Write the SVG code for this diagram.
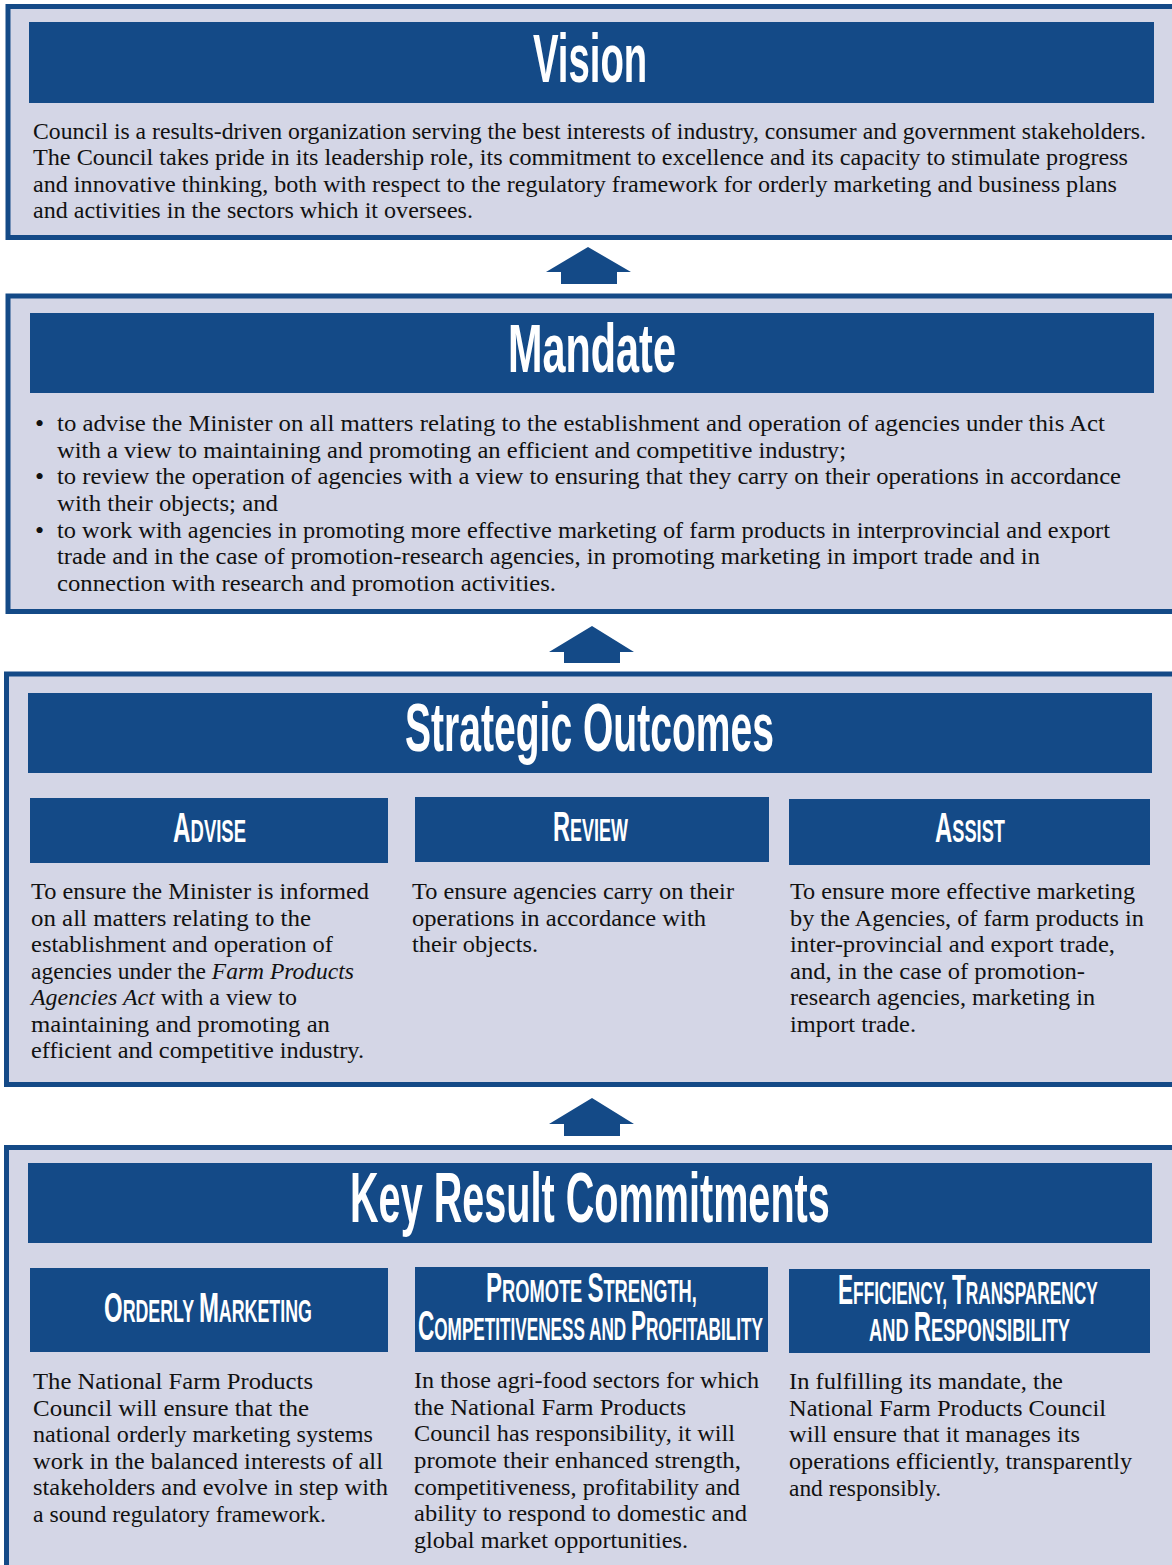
<svg xmlns="http://www.w3.org/2000/svg" width="1172" height="1565" viewBox="0 0 1172 1565">
<style>
.panel{fill:#d4d6e6;stroke:#144a87;stroke-width:5}
.bar{fill:#144a87}
.arrow{fill:#144a87}
.title{font-family:"Liberation Sans",Arial,sans-serif;font-weight:bold;font-size:68px;fill:#fff}
.hd{font-family:"Liberation Sans",Arial,sans-serif;font-weight:bold;fill:#fff}
.big{font-size:42px}
.sm{font-size:32px}
.body{font-family:"Liberation Serif","DejaVu Serif",serif;font-size:22.5px;fill:#111}
.bul{font-family:"Liberation Serif","DejaVu Serif",serif;font-size:26px;fill:#111}
.it{font-style:italic}
</style>
<rect width="1172" height="1565" fill="#fff"/>

<g id="connectors">
<polygon class="arrow" points="588,247 631,272 617,272 617,284 561,284 561,272 546,272"/>
<polygon class="arrow" points="592,626 634,652 620,652 620,663 564,663 564,652 549,652"/>
<polygon class="arrow" points="592,1098 634,1124 620,1124 620,1136 564,1136 564,1124 549,1124"/>
</g>

<g id="vision">
<rect class="panel" x="8" y="6.5" width="1175" height="231"/>
<rect class="bar" x="29" y="22" width="1125" height="81"/>
<text class="title" transform="translate(533,82) scale(0.5635,1)">Vision</text>
<text class="body" x="33" y="138.5" textLength="1113" lengthAdjust="spacingAndGlyphs">Council is a results-driven organization serving the best interests of industry, consumer and government stakeholders.</text>
<text class="body" x="33" y="165" textLength="1095" lengthAdjust="spacingAndGlyphs">The Council takes pride in its leadership role, its commitment to excellence and its capacity to stimulate progress</text>
<text class="body" x="33" y="191.5" textLength="1084" lengthAdjust="spacingAndGlyphs">and innovative thinking, both with respect to the regulatory framework for orderly marketing and business plans</text>
<text class="body" x="33" y="218" textLength="440" lengthAdjust="spacingAndGlyphs">and activities in the sectors which it oversees.</text>
</g>

<g id="mandate">
<rect class="panel" x="8" y="296" width="1175" height="315.5"/>
<rect class="bar" x="30" y="313" width="1124" height="80"/>
<text class="title" transform="translate(508,372) scale(0.609,1)">Mandate</text>
<text class="bul" x="35" y="432">•</text>
<text class="body" x="57" y="431" textLength="1048" lengthAdjust="spacingAndGlyphs">to advise the Minister on all matters relating to the establishment and operation of agencies under this Act</text>
<text class="body" x="57" y="457.7" textLength="789" lengthAdjust="spacingAndGlyphs">with a view to maintaining and promoting an efficient and competitive industry;</text>
<text class="bul" x="35" y="485.3">•</text>
<text class="body" x="57" y="484.3" textLength="1064" lengthAdjust="spacingAndGlyphs">to review the operation of agencies with a view to ensuring that they carry on their operations in accordance</text>
<text class="body" x="57" y="511" textLength="221" lengthAdjust="spacingAndGlyphs">with their objects; and</text>
<text class="bul" x="35" y="538.7">•</text>
<text class="body" x="57" y="537.7" textLength="1053" lengthAdjust="spacingAndGlyphs">to work with agencies in promoting more effective marketing of farm products in interprovincial and export</text>
<text class="body" x="57" y="564.3" textLength="983" lengthAdjust="spacingAndGlyphs">trade and in the case of promotion-research agencies, in promoting marketing in import trade and in</text>
<text class="body" x="57" y="591" textLength="499" lengthAdjust="spacingAndGlyphs">connection with research and promotion activities.</text>
</g>

<g id="strategic-outcomes">
<rect class="panel" x="6.5" y="674" width="1177" height="410.5"/>
<rect class="bar" x="28" y="693" width="1124" height="80"/>
<text class="title" transform="translate(405,751) scale(0.5744,1)">Strategic Outcomes</text>
</g>

<g id="advise">
<rect class="bar" x="30" y="798" width="358" height="65"/>
<text class="hd" transform="translate(173,842) scale(0.578,1)"><tspan class="big">A</tspan><tspan class="sm">DVISE</tspan></text>
<text class="body" x="31" y="899.3" textLength="338" lengthAdjust="spacingAndGlyphs">To ensure the Minister is informed</text>
<text class="body" x="31" y="925.8" textLength="280" lengthAdjust="spacingAndGlyphs">on all matters relating to the</text>
<text class="body" x="31" y="952.3" textLength="302" lengthAdjust="spacingAndGlyphs">establishment and operation of</text>
<text class="body" x="31" y="978.8" textLength="323" lengthAdjust="spacingAndGlyphs">agencies under the <tspan class="it">Farm Products</tspan></text>
<text class="body" x="31" y="1005.3" textLength="266" lengthAdjust="spacingAndGlyphs"><tspan class="it">Agencies Act</tspan> with a view to</text>
<text class="body" x="31" y="1031.8" textLength="299" lengthAdjust="spacingAndGlyphs">maintaining and promoting an</text>
<text class="body" x="31" y="1058.3" textLength="333" lengthAdjust="spacingAndGlyphs">efficient and competitive industry.</text>
</g>

<g id="review">
<rect class="bar" x="415" y="797" width="354" height="65"/>
<text class="hd" transform="translate(553,841) scale(0.562,1)"><tspan class="big">R</tspan><tspan class="sm">EVIEW</tspan></text>
<text class="body" x="412" y="899.3" textLength="322" lengthAdjust="spacingAndGlyphs">To ensure agencies carry on their</text>
<text class="body" x="412" y="925.8" textLength="294" lengthAdjust="spacingAndGlyphs">operations in accordance with</text>
<text class="body" x="412" y="952.3" textLength="126" lengthAdjust="spacingAndGlyphs">their objects.</text>
</g>

<g id="assist">
<rect class="bar" x="789" y="799" width="361" height="66"/>
<text class="hd" transform="translate(935,842) scale(0.570,1)"><tspan class="big">A</tspan><tspan class="sm">SSIST</tspan></text>
<text class="body" x="790" y="899.3" textLength="345" lengthAdjust="spacingAndGlyphs">To ensure more effective marketing</text>
<text class="body" x="790" y="925.8" textLength="354" lengthAdjust="spacingAndGlyphs">by the Agencies, of farm products in</text>
<text class="body" x="790" y="952.3" textLength="325" lengthAdjust="spacingAndGlyphs">inter-provincial and export trade,</text>
<text class="body" x="790" y="978.8" textLength="295" lengthAdjust="spacingAndGlyphs">and, in the case of promotion-</text>
<text class="body" x="790" y="1005.3" textLength="305" lengthAdjust="spacingAndGlyphs">research agencies, marketing in</text>
<text class="body" x="790" y="1031.8" textLength="126" lengthAdjust="spacingAndGlyphs">import trade.</text>
</g>

<g id="key-result-commitments">
<rect class="panel" x="6.5" y="1147.5" width="1177" height="440"/>
<rect class="bar" x="28" y="1163" width="1124" height="80"/>
<text class="title" transform="translate(350,1222) scale(0.566,1)" style="font-size:70px">Key Result Commitments</text>
</g>

<g id="orderly-marketing">
<rect class="bar" x="30" y="1268" width="358" height="84"/>
<text class="hd" transform="translate(104,1322) scale(0.557,1)"><tspan class="big" style="font-size:43px">O</tspan><tspan class="sm">RDERLY </tspan><tspan class="big" style="font-size:43px">M</tspan><tspan class="sm">ARKETING</tspan></text>
<text class="body" x="33" y="1389" textLength="280" lengthAdjust="spacingAndGlyphs">The National Farm Products</text>
<text class="body" x="33" y="1415.6" textLength="276" lengthAdjust="spacingAndGlyphs">Council will ensure that the</text>
<text class="body" x="33" y="1442.2" textLength="340" lengthAdjust="spacingAndGlyphs">national orderly marketing systems</text>
<text class="body" x="33" y="1468.8" textLength="350" lengthAdjust="spacingAndGlyphs">work in the balanced interests of all</text>
<text class="body" x="33" y="1495.4" textLength="355" lengthAdjust="spacingAndGlyphs">stakeholders and evolve in step with</text>
<text class="body" x="33" y="1522" textLength="293" lengthAdjust="spacingAndGlyphs">a sound regulatory framework.</text>
</g>

<g id="promote-strength">
<rect class="bar" x="415" y="1267" width="353" height="85"/>
<text class="hd" transform="translate(486,1302) scale(0.572,1)"><tspan class="big">P</tspan><tspan class="sm">ROMOTE </tspan><tspan class="big">S</tspan><tspan class="sm">TRENGTH,</tspan></text>
<text class="hd" transform="translate(418,1340) scale(0.5365,1)"><tspan class="big">C</tspan><tspan class="sm">OMPETITIVENESS AND </tspan><tspan class="big">P</tspan><tspan class="sm">ROFITABILITY</tspan></text>
<text class="body" x="414" y="1388" textLength="345" lengthAdjust="spacingAndGlyphs">In those agri-food sectors for which</text>
<text class="body" x="414" y="1414.7" textLength="272" lengthAdjust="spacingAndGlyphs">the National Farm Products</text>
<text class="body" x="414" y="1441.3" textLength="321" lengthAdjust="spacingAndGlyphs">Council has responsibility, it will</text>
<text class="body" x="414" y="1468" textLength="327" lengthAdjust="spacingAndGlyphs">promote their enhanced strength,</text>
<text class="body" x="414" y="1494.7" textLength="326" lengthAdjust="spacingAndGlyphs">competitiveness, profitability and</text>
<text class="body" x="414" y="1521.3" textLength="333" lengthAdjust="spacingAndGlyphs">ability to respond to domestic and</text>
<text class="body" x="414" y="1548" textLength="274" lengthAdjust="spacingAndGlyphs">global market opportunities.</text>
</g>

<g id="efficiency-transparency">
<rect class="bar" x="789" y="1269" width="361" height="84"/>
<text class="hd" transform="translate(838,1304) scale(0.5395,1)"><tspan class="big">E</tspan><tspan class="sm">FFICIENCY, </tspan><tspan class="big">T</tspan><tspan class="sm">RANSPARENCY</tspan></text>
<text class="hd" transform="translate(869,1341) scale(0.571,1)"><tspan class="sm">AND </tspan><tspan class="big">R</tspan><tspan class="sm">ESPONSIBILITY</tspan></text>
<text class="body" x="789" y="1389" textLength="274" lengthAdjust="spacingAndGlyphs">In fulfilling its mandate, the</text>
<text class="body" x="789" y="1415.7" textLength="317" lengthAdjust="spacingAndGlyphs">National Farm Products Council</text>
<text class="body" x="789" y="1442.3" textLength="291" lengthAdjust="spacingAndGlyphs">will ensure that it manages its</text>
<text class="body" x="789" y="1469" textLength="343" lengthAdjust="spacingAndGlyphs">operations efficiently, transparently</text>
<text class="body" x="789" y="1495.7" textLength="152" lengthAdjust="spacingAndGlyphs">and responsibly.</text>
</g>
</svg>
